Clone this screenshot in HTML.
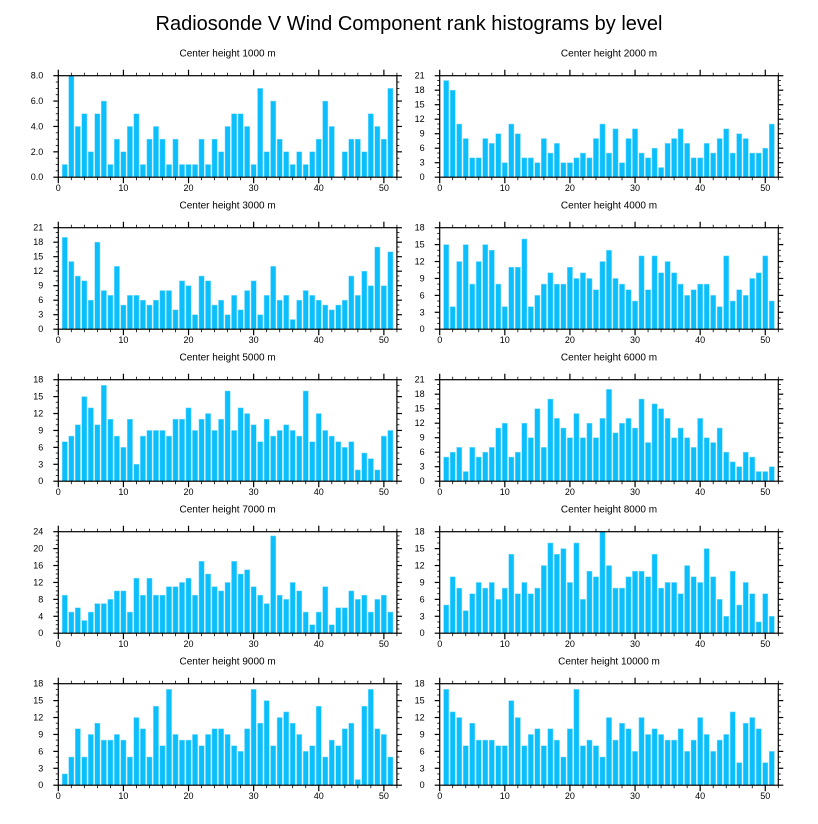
<!DOCTYPE html>
<html><head><meta charset="utf-8"><style>
body{margin:0;background:#fff;}
svg{display:block;font-family:"Liberation Sans",Arial,sans-serif;}
</style></head><body>
<svg id="chart" width="818" height="824" viewBox="0 0 818 824">
<text x="409" y="30" text-anchor="middle" font-size="20">Radiosonde V Wind Component rank histograms by level</text>
</svg>
<script>
const levels = [1000,2000,3000,4000,5000,6000,7000,8000,9000,10000];
const yMaxes = [8,21,21,18,18,21,24,18,18,18];
const yMajorSteps = [2,3,3,3,3,3,4,3,3,3];
const yMinorSteps = [0.5,1,1,1,1,1,1,1,1,1];
const xTicks = [0,10,20,30,40,50];
const v1000 = [1,8,4,5,2,5,6,1,3,2,4,5,1,3,4,3,1,3,1,1,1,3,1,3,2,4,5,5,4,1,7,2,6,3,2,1,2,1,2,3,6,4,0,2,3,3,2,5,4,3,7];
const v2000 = [20,18,11,8,4,4,8,7,9,3,11,9,4,4,3,8,5,7,3,3,4,5,4,8,11,5,10,3,8,10,5,4,6,2,7,8,10,7,4,4,7,5,8,10,5,9,8,5,5,6,11];
const v3000 = [19,14,11,10,6,18,8,7,13,5,7,7,6,5,6,8,8,4,10,9,3,11,10,5,6,3,7,4,8,10,3,7,13,6,7,2,6,8,7,6,5,4,5,6,11,7,12,9,17,9,16];
const v4000 = [15,4,12,15,8,12,15,14,8,4,11,11,16,4,6,8,10,8,8,11,9,10,9,7,12,14,9,8,7,5,13,7,13,10,12,10,8,6,7,8,8,6,4,13,5,7,6,9,10,13,5];
const v5000 = [7,8,10,15,13,10,17,11,8,6,11,3,8,9,9,9,8,11,11,13,9,11,12,9,11,16,9,13,12,10,7,11,8,9,10,9,8,16,7,12,9,8,7,6,7,2,5,4,2,8,9];
const v6000 = [5,6,7,2,7,5,6,7,11,12,5,6,12,9,15,7,17,13,11,9,14,9,12,9,13,19,10,12,13,11,17,8,16,15,13,9,11,9,7,13,9,8,11,6,4,3,6,5,2,2,3];
const v7000 = [9,5,6,3,5,7,7,8,10,10,5,13,9,13,9,9,11,11,12,13,9,17,14,11,10,12,17,14,15,11,9,7,23,9,8,12,10,5,2,5,11,2,6,6,10,8,9,5,8,9,5];
const v8000 = [5,10,8,4,7,9,8,9,6,8,14,7,9,7,8,12,16,14,15,9,16,6,11,10,18,12,8,8,10,11,11,10,14,8,9,9,7,12,10,9,15,10,6,3,11,5,9,7,2,7,3];
const v9000 = [2,5,10,5,9,11,8,8,9,8,5,12,10,5,14,7,17,9,8,8,9,7,9,10,10,9,7,6,10,17,11,15,7,12,13,11,9,6,7,14,5,8,7,10,11,1,14,17,10,9,5];
const v10000 = [17,13,12,7,11,8,8,8,7,7,15,12,7,9,10,7,10,8,5,10,17,7,8,7,5,12,8,11,10,6,12,9,10,9,8,8,10,6,8,12,9,6,8,9,13,4,11,12,10,4,6];
const seriesList = [v1000,v2000,v3000,v4000,v5000,v6000,v7000,v8000,v9000,v10000];

const NS = "http://www.w3.org/2000/svg";
const svg = document.getElementById('chart');
function mk(tag, attrs, parent){
  const e = document.createElementNS(NS, tag);
  for (const k in attrs) e.setAttribute(k, attrs[k]);
  parent.appendChild(e);
  return e;
}
const XMIN = 0, XMAX = 52;
const colX = [58.3, 439.7];
const plotW = 338.6, plotH = 101.5;
levels.forEach((lev, p) => {
  const col = p % 2, row = Math.floor(p / 2);
  const L = colX[col], T = 75.7 + row * 152, B = T + plotH, R = L + plotW;
  const vals = seriesList[p], ymax = yMaxes[p];
  const xs = x => L + (x - XMIN) / (XMAX - XMIN) * plotW;
  const ys = y => B - y / ymax * plotH;
  const g = mk('g', {}, svg);
  
  
  const title = mk('text', {x: (L + R) / 2, y: T - 19, 'text-anchor': 'middle', 'font-size': 10}, g);
  title.textContent = 'Center height ' + lev + ' m';
  
  
  const bw = 0.8;
  vals.forEach((v, i) => {
    const x = i + 1;
    if (v <= 0) return;
    const r = mk('rect', {x: xs(x - bw / 2), y: ys(v), width: xs(x + bw / 2) - xs(x - bw / 2), height: B - ys(v), fill: '#0abffb', stroke: '#7fdcff', 'stroke-width': 0.5}, g);
    
    
  });
  const fr = mk('rect', {x: L, y: T, width: plotW, height: plotH, fill: 'none', stroke: '#000', 'stroke-width': 1.2}, g);
  
  
  // x ticks
  for (let t = 0; t <= XMAX; t += 2) {
    const major = t % 10 === 0;
    const len = major ? 6 : 3;
    mk('line', {x1: xs(t), x2: xs(t), y1: B, y2: B + len, stroke: '#000', 'stroke-width': major ? 1.2 : 0.8}, g);
    mk('line', {x1: xs(t), x2: xs(t), y1: T, y2: T - len, stroke: '#000', 'stroke-width': major ? 1.2 : 0.8}, g);
  }
  xTicks.forEach(t => {
    const tx = mk('text', {x: xs(t), y: B + 14, 'text-anchor': 'middle', 'font-size': 9}, g);
    tx.textContent = t;
    
    
  });
  // y ticks
  const mn = yMinorSteps[p], mj = yMajorSteps[p];
  for (let k = 0; k * mn <= ymax + 1e-9; k++) {
    const t = k * mn;
    const major = Math.abs(t / mj - Math.round(t / mj)) < 1e-9;
    const len = major ? 5 : 2.5;
    mk('line', {x1: L, x2: L - len, y1: ys(t), y2: ys(t), stroke: '#000', 'stroke-width': major ? 1.2 : 0.8}, g);
    mk('line', {x1: R, x2: R + len, y1: ys(t), y2: ys(t), stroke: '#000', 'stroke-width': major ? 1.2 : 0.8}, g);
  }
  for (let t = 0; t <= ymax + 1e-9; t += mj) {
    const ty = mk('text', {x: L - 15, y: ys(t) + 3, 'text-anchor': 'end', 'font-size': 9}, g);
    ty.textContent = lev === 1000 ? t.toFixed(1) : String(t);
    
    
  }
});
</script>
</body></html>
